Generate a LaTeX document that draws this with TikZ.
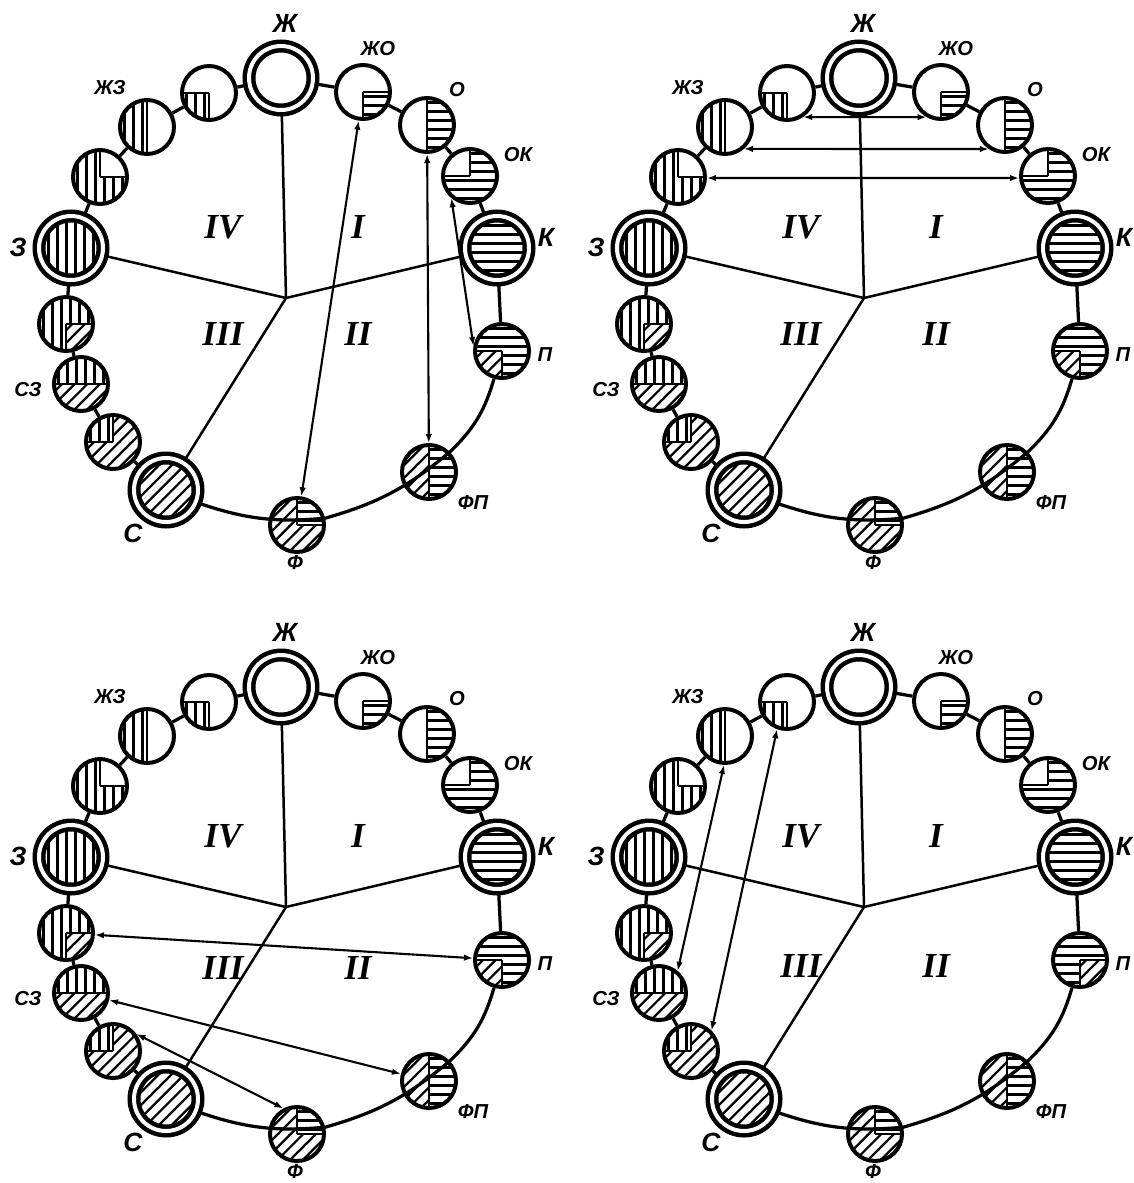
\documentclass[tikz,border=0pt]{standalone}
\usepackage{fontspec}
\setmainfont{Liberation Serif}
\newfontfamily\lblfont{Liberation Sans}
\usetikzlibrary{arrows.meta}

% hatchings, drawn inside a circle node
\newcommand{\shPust}{}
\newcommand{\shGor}{\foreach \k in {-4,...,3}{\draw[shtrih] ([shift={(-45,\k*9+4.5)}]path picture bounding box.center) -- ++(90,0);}}
\newcommand{\shVer}{\foreach \k in {-4,...,3}{\draw[shtrih] ([shift={(\k*9+4.5,-45)}]path picture bounding box.center) -- ++(0,90);}}
\newcommand{\shDiag}{\foreach \k in {-4,...,3}{\draw[shtrih] ([shift={(\k*12.7-38.65,45)}]path picture bounding box.center) -- ++(90,-90);}}
\newcommand{\kvadr}[3]{\begin{scope}\clip (path picture bounding box.center) rectangle ++(#1*45,#2*45);#3\end{scope}}

\tikzset{
  krug/.style={circle,draw,line width=0.8mm,minimum size=10.8mm,inner sep=0pt},
  dvoj/.style={circle,draw,line width=0.9mm,double,double distance=0.8mm,minimum size=12.8mm,inner sep=0pt},
  shtrih/.style={line width=0.45mm},
  svyaz/.style={line width=0.65mm},
  sektor/.style={line width=0.5mm},
  strelka/.style={line width=0.42mm,{Latex[length=1.8mm,width=1.3mm]}-{Latex[length=1.8mm,width=1.3mm]}},
  bukva/.style={inner sep=0pt,font=\lblfont\bfseries\itshape\fontsize{11.5}{12}\selectfont},
  bukvab/.style={inner sep=0pt,font=\lblfont\bfseries\itshape\fontsize{15}{16}\selectfont},
  rim/.style={inner sep=0pt,font=\bfseries\itshape\fontsize{20}{22}\selectfont},
  ves/.style={path picture={#1}},
  kv/.style n args={5}{path picture={%
    \kvadr{-1}{-1}{#1}\kvadr{1}{-1}{#2}\kvadr{-1}{1}{#3}\kvadr{1}{1}{#4}%
    \foreach \a in {#5} \draw[shtrih] (path picture bounding box.center) -- ++(\a:40);}},
}

% one colour circle: #1 prefix, #2 pattern of P, #3 height of III and II
\newcommand{\koleso}[3]{%
  \node[dvoj] (#1Zh) at (281,78) {};
  \node[krug,kv={\shPust}{\shPust}{\shPust}{\shGor}{0,90}] (#1ZhO) at (363,92) {};
  \node[krug,kv={\shPust}{\shGor}{\shPust}{\shGor}{90,270}] (#1O) at (427,125) {};
  \node[krug,kv={\shPust}{\shGor}{\shGor}{\shGor}{270,180}] (#1OK) at (470,176) {};
  \node[dvoj,ves=\shGor] (#1K) at (497,248) {};
  \node[krug,#2] (#1P) at (502,351) {};
  \node[krug,kv={\shDiag}{\shGor}{\shDiag}{\shGor}{90,270}] (#1FP) at (429,472) {};
  \node[krug,kv={\shDiag}{\shGor}{\shDiag}{\shDiag}{270,0}] (#1F) at (297,525) {};
  \node[dvoj,ves=\shDiag] (#1S) at (166,490) {};
  \node[krug,kv={\shVer}{\shDiag}{\shDiag}{\shDiag}{270,180}] (#1SSZ) at (113,442) {};
  \node[krug,kv={\shVer}{\shVer}{\shDiag}{\shDiag}{0,180}] (#1SZ) at (81,384) {};
  \node[krug,kv={\shVer}{\shVer}{\shVer}{\shDiag}{0,90}] (#1ZSZ) at (66,324) {};
  \node[dvoj,ves=\shVer] (#1Z) at (71,248) {};
  \node[krug,kv={\shVer}{\shPust}{\shVer}{\shVer}{270,0}] (#1ZZhZ) at (100,177) {};
  \node[krug,kv={\shVer}{\shPust}{\shVer}{\shPust}{90,270}] (#1ZhZ) at (147,127) {};
  \node[krug,kv={\shPust}{\shPust}{\shVer}{\shPust}{180,90}] (#1ZhZZh) at (209,93) {};
  \coordinate (#1C) at (286,298);
  \draw[svyaz] (#1Zh) -- (#1ZhO) -- (#1O) -- (#1OK) -- (#1K) -- (#1P);
  \draw[svyaz] (#1P) to[bend left=15] (#1FP) to[bend left=12] (#1F) to[bend left=12] (#1S);
  \draw[svyaz] (#1S) -- (#1SSZ) -- (#1SZ) -- (#1ZSZ) -- (#1Z) -- (#1ZZhZ) -- (#1ZhZ) -- (#1ZhZZh) -- (#1Zh);
  \draw[sektor] (#1Zh) -- (#1C) -- (#1K);
  \draw[sektor] (#1Z) -- (#1C) -- (#1S);
  \node[bukvab] (#1lZh) at (285,23) {Ж};
  \node[bukva] (#1lZhO) at (378,49) {ЖО};
  \node[bukva] (#1lO) at (457,90) {О};
  \node[bukva] (#1lOK) at (518,155) {ОК};
  \node[bukvab] (#1lK) at (546,237) {К};
  \node[bukva] (#1lP) at (545,355) {П};
  \node[bukva] (#1lFP) at (473,503) {ФП};
  \node[bukva] (#1lF) at (295,563) {Ф};
  \node[bukvab] (#1lS) at (133,533) {С};
  \node[bukva] (#1lSZ) at (28,390) {СЗ};
  \node[bukvab] (#1lZ) at (18,247) {З};
  \node[bukva] (#1lZhZ) at (110,88) {ЖЗ};
  \node[rim] (#1r4) at (223,227) {IV};
  \node[rim] (#1r1) at (358,227) {I};
  \node[rim] (#1r3) at (223,#3) {III};
  \node[rim] (#1r2) at (358,#3) {II};
}

\begin{document}
\begin{tikzpicture}[x=0.2mm,y=-0.2mm]
\fill[white] (0,0) rectangle (1134,1183);
\useasboundingbox (0,0) rectangle (1134,1183);

\koleso{a}{kv={\shGor}{\shGor}{\shDiag}{\shGor}{180,90}}{334}
\draw[strelka] (aZhO) -- (aF);
\draw[strelka] (aO) -- (aFP);
\draw[strelka] (aOK.230) -- (aP.170);

\begin{scope}[shift={(578,0)}]
\koleso{b}{kv={\shGor}{\shGor}{\shDiag}{\shGor}{180,90}}{334}
\end{scope}
\draw[strelka] (bZhZZh.-56) -- (bZhO.-120);
\draw[strelka] (bZhZ.-49) -- (bO.-124);
\draw[strelka] (bZZhZ.-2) -- (bOK.184);

\begin{scope}[shift={(0,609)}]
\koleso{c}{kv={\shGor}{\shGor}{\shDiag}{\shGor}{180,90}}{359}
\end{scope}
\draw[strelka] (cZSZ) -- (cP);
\draw[strelka] (cSZ) -- (cFP);
\draw[strelka] (cSSZ.36) -- (cF.118);

\begin{scope}[shift={(578,609)}]
\koleso{d}{kv={\shGor}{\shGor}{\shGor}{\shDiag}{0,90}}{357}
\end{scope}
\draw[strelka] (dZhZ.-92) -- (dSZ.50);
\draw[strelka] (dZhZZh.-110) -- (dSSZ.45);
\end{tikzpicture}
\end{document}
